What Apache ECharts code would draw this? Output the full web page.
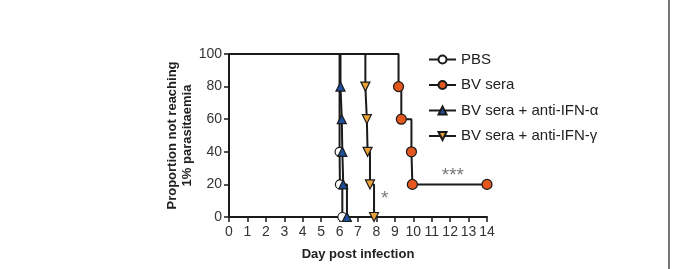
<!DOCTYPE html>
<html>
<head>
<meta charset="utf-8">
<script src="https://cdn.jsdelivr.net/npm/echarts@6/dist/echarts.min.js"></script>
<style>
  html, body { margin: 0; padding: 0; background: #fff; }
  #chart { width: 673px; height: 269px; }
</style>
</head>
<body>
<div id="chart"></div>
<script>
// group names
var groupNames = ['PBS', 'BV sera', 'BV sera + anti-IFN-\u03b1', 'BV sera + anti-IFN-\u03b3'];

// survival steps (day, % not reaching 1% parasitaemia)
var pbsDays = [0, 6, 6, 6.02, 6.15];
var pbsVals = [100, 100, 40, 20, 0];

var bvDays = [0, 9.2, 9.2, 9.35, 9.9, 9.95, 14];
var bvVals = [100, 100, 80, 60, 40, 20, 20];

var alphaDays = [0, 6.05, 6.05, 6.12, 6.15, 6.2, 6.4];
var alphaVals = [100, 100, 80, 60, 40, 20, 0];

var gammaDays = [0, 7.4, 7.4, 7.48, 7.52, 7.65, 7.87];
var gammaVals = [100, 100, 80, 60, 40, 20, 0];

// significance marks
var starText = ['***', '*'];
var starDays = [12.15, 8.45];
var starVals = [25, 11];

var xTicks = [0, 14, 1];   // min, max, step
var yTicks = [0, 100, 20];

var downTri = 'path://M0,0 L10,0 L5,9 Z';

// first two points are the flat start of the curve, no marker there
function pts(days, vals) {
  return days.map(function (d, i) {
    var item = { value: [d, vals[i]] };
    if (i < 2) item.symbol = 'none';
    return item;
  });
}

function km(name, days, vals, symbol, fill, size) {
  return {
    name: name,
    type: 'line',
    step: 'end',
    data: pts(days, vals),
    symbol: symbol,
    symbolSize: size,
    showAllSymbol: true,
    lineStyle: { color: '#1a1a1a', width: 2 },
    itemStyle: { color: fill, borderColor: '#1a1a1a', borderWidth: 1.2 },
    emphasis: { disabled: true },
    z: 3
  };
}

var chart = echarts.init(document.getElementById('chart'));
chart.setOption({
  animation: false,
  textStyle: { fontFamily: 'Liberation Sans, Arial, sans-serif' },
  grid: { left: 229, right: 186, top: 54, bottom: 52 },
  legend: {
    data: groupNames,
    orient: 'vertical',
    left: 423,
    top: 47,
    itemWidth: 27,
    itemHeight: 10,
    itemGap: 10.5,
    textStyle: { fontSize: 15, color: '#222' }
  },
  xAxis: {
    type: 'value',
    min: xTicks[0], max: xTicks[1], interval: xTicks[2],
    name: 'Day post infection',
    nameLocation: 'middle',
    nameGap: 31,
    nameTextStyle: { fontSize: 13, fontWeight: 'bold', color: '#222' },
    axisLine: { lineStyle: { color: '#1a1a1a', width: 2 } },
    axisTick: { show: true, length: 5, lineStyle: { color: '#1a1a1a', width: 1.5 } },
    axisLabel: { fontSize: 14, color: '#333', margin: 8 },
    splitLine: { show: false }
  },
  yAxis: {
    type: 'value',
    min: yTicks[0], max: yTicks[1], interval: yTicks[2],
    name: 'Proportion not reaching\n1% parasitaemia',
    nameLocation: 'middle',
    nameGap: 31,
    nameTextStyle: { fontSize: 13, fontWeight: 'bold', color: '#222', lineHeight: 15 },
    axisLine: { lineStyle: { color: '#1a1a1a', width: 2 } },
    axisTick: { show: true, length: 5, lineStyle: { color: '#1a1a1a', width: 1.5 } },
    axisLabel: { fontSize: 14, color: '#333', margin: 7 },
    splitLine: { show: false }
  },
  series: [
    km(groupNames[0], pbsDays, pbsVals, 'circle', '#ffffff', 9),
    km(groupNames[1], bvDays, bvVals, 'circle', '#e4571f', 10),
    km(groupNames[2], alphaDays, alphaVals, 'triangle', '#1f4f9a', 9),
    km(groupNames[3], gammaDays, gammaVals, downTri, '#eba236', 9),
    {
      name: 'stars',
      type: 'scatter',
      symbolSize: 0,
      data: starDays.map(function (d, i) { return [d, starVals[i], starText[i]]; }),
      label: {
        show: true,
        position: 'inside',
        formatter: function (p) { return p.value[2]; },
        fontSize: 19,
        color: '#555'
      },
      emphasis: { disabled: true },
      silent: true
    }
  ],
  graphic: [
    {
      type: 'line',
      shape: { x1: 669, y1: 0, x2: 669, y2: 269 },
      style: { stroke: '#777', lineWidth: 2 }
    }
  ]
});
</script>
</body>
</html>
